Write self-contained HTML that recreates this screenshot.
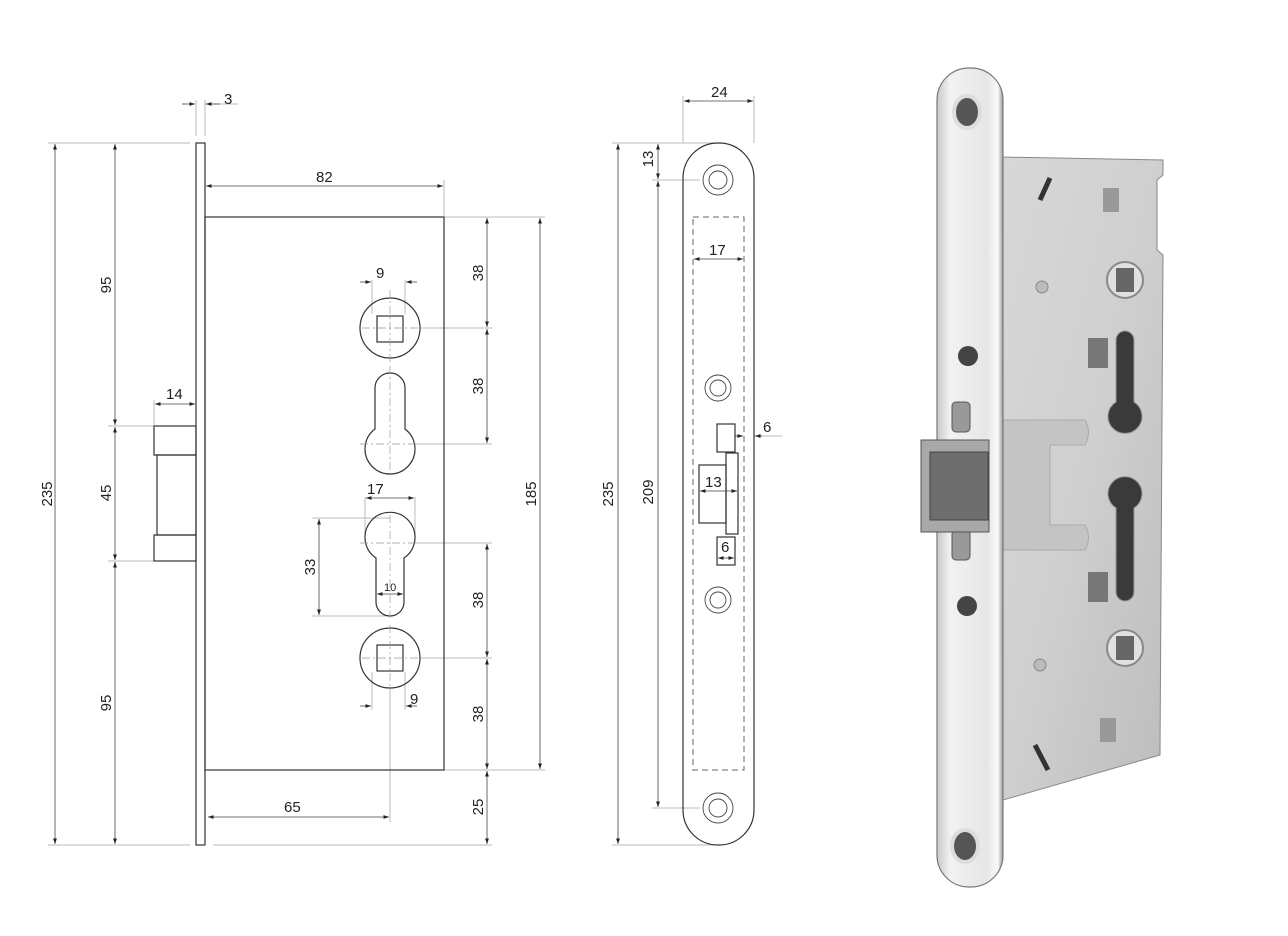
<!DOCTYPE html>
<html><head><meta charset="utf-8"><style>
html,body{margin:0;padding:0;background:#fff}
svg{display:block}
text{font-family:"Liberation Sans",Arial,sans-serif;font-size:15px;fill:#222}
</style></head><body>
<svg width="1288" height="936" viewBox="0 0 1288 936" xmlns="http://www.w3.org/2000/svg">
<defs>
<marker id="a" viewBox="0 0 10 10" refX="10" refY="5" markerWidth="7" markerHeight="7" orient="auto-start-reverse"><path d="M0,1.5 L10,5 L0,8.5 z" fill="#222"/></marker>
<linearGradient id="fp" x1="0" x2="1"><stop offset="0" stop-color="#c9c9c9"/><stop offset="0.2" stop-color="#f2f2f2"/><stop offset="0.75" stop-color="#e6e6e6"/><stop offset="0.92" stop-color="#fafafa"/><stop offset="1" stop-color="#9a9a9a"/></linearGradient>
<linearGradient id="bd" x1="0" x2="1" y1="0" y2="1"><stop offset="0" stop-color="#d8d8d8"/><stop offset="0.5" stop-color="#cfcfcf"/><stop offset="1" stop-color="#bdbdbd"/></linearGradient>
</defs>
<g stroke="#bbb" stroke-width="1" fill="none">
<line x1="48" y1="143" x2="190" y2="143"/><line x1="48" y1="845" x2="190" y2="845"/>
<line x1="213" y1="845" x2="492" y2="845"/>
<line x1="108" y1="426" x2="154" y2="426"/><line x1="108" y1="561" x2="154" y2="561"/>
<line x1="196" y1="100" x2="196" y2="136"/><line x1="205" y1="100" x2="205" y2="136"/>
<line x1="204" y1="104" x2="238" y2="104"/>
<line x1="444" y1="180" x2="444" y2="216"/>
<line x1="444" y1="217" x2="545" y2="217"/><line x1="444" y1="770" x2="545" y2="770"/>
<line x1="154" y1="400" x2="154" y2="425"/>
<line x1="372" y1="280" x2="372" y2="314"/><line x1="405" y1="280" x2="405" y2="314"/>
<line x1="365" y1="497" x2="365" y2="540"/><line x1="415" y1="497" x2="415" y2="540"/>
<line x1="312" y1="518" x2="390" y2="518"/><line x1="312" y1="616" x2="390" y2="616"/>
<line x1="372" y1="672" x2="372" y2="710"/><line x1="405" y1="672" x2="405" y2="710"/>
<line x1="390" y1="690" x2="390" y2="822"/>
<line x1="420" y1="328" x2="492" y2="328"/><line x1="420" y1="658" x2="492" y2="658"/>
<line x1="415" y1="444" x2="492" y2="444"/><line x1="415" y1="543" x2="492" y2="543"/>
<line x1="612" y1="143" x2="718" y2="143"/><line x1="612" y1="845" x2="718" y2="845"/>
<line x1="652" y1="180" x2="700" y2="180"/><line x1="652" y1="808" x2="700" y2="808"/>
<line x1="683" y1="96" x2="683" y2="143"/><line x1="754" y1="96" x2="754" y2="143"/>
<line x1="754" y1="436" x2="782" y2="436"/>
</g>
<g stroke="#444" stroke-width="0.8" fill="none" marker-start="url(#a)" marker-end="url(#a)">
<line x1="55" y1="144" x2="55" y2="844"/>
<line x1="115" y1="144" x2="115" y2="425"/>
<line x1="115" y1="427" x2="115" y2="560"/>
<line x1="115" y1="562" x2="115" y2="844"/>
<line x1="206" y1="186" x2="443" y2="186"/>
<line x1="155" y1="404" x2="195" y2="404"/>
<line x1="540" y1="218" x2="540" y2="769"/>
<line x1="487" y1="218" x2="487" y2="327"/>
<line x1="487" y1="329" x2="487" y2="443"/>
<line x1="487" y1="544" x2="487" y2="657"/>
<line x1="487" y1="659" x2="487" y2="769"/>
<line x1="487" y1="771" x2="487" y2="844"/>
<line x1="366" y1="498" x2="414" y2="498"/>
<line x1="319" y1="519" x2="319" y2="615"/>
<line x1="377" y1="594" x2="403" y2="594"/>
<line x1="208" y1="817" x2="389" y2="817"/>
<line x1="684" y1="101" x2="753" y2="101"/>
<line x1="618" y1="144" x2="618" y2="844"/>
<line x1="658" y1="144" x2="658" y2="179"/>
<line x1="658" y1="181" x2="658" y2="807"/>
<line x1="694" y1="259" x2="743" y2="259"/>
<line x1="700" y1="491" x2="737" y2="491"/>
<line x1="718" y1="558" x2="734" y2="558"/>
</g>
<g stroke="#444" stroke-width="0.8" fill="none" marker-end="url(#a)">
<line x1="182" y1="104" x2="195" y2="104"/><line x1="220" y1="104" x2="206" y2="104"/>
<line x1="360" y1="282" x2="371" y2="282"/><line x1="417" y1="282" x2="406" y2="282"/>
<line x1="360" y1="706" x2="371" y2="706"/><line x1="417" y1="706" x2="406" y2="706"/>
<line x1="735" y1="436" x2="743" y2="436"/><line x1="762" y1="436" x2="755" y2="436"/>
</g>
<g stroke="#333" stroke-width="1.2" fill="none">
<rect x="196" y="143" width="9" height="702"/>
<rect x="205" y="217" width="239" height="553"/>
<rect x="154" y="426" width="42" height="29"/>
<rect x="157" y="455" width="39" height="80"/>
<rect x="154" y="535" width="42" height="26"/>
<circle cx="390" cy="328" r="30"/><rect x="377" y="316" width="26" height="26"/>
<circle cx="390" cy="658" r="30"/><rect x="377" y="645" width="26" height="26"/>
<path d="M375,429 L375,388 A15,15 0 0 1 405,388 L405,429 A25,25 0 1 1 375,429 Z"/>
<path d="M376,558 A25,25 0 1 1 404,558 L404,602 A14,14 0 0 1 376,602 Z"/>
</g>
<g stroke="#999" stroke-width="0.7" stroke-dasharray="8,3,2,3" fill="none">
<line x1="390" y1="290" x2="390" y2="365"/><line x1="362" y1="328" x2="420" y2="328"/>
<line x1="390" y1="366" x2="390" y2="472"/><line x1="360" y1="444" x2="420" y2="444"/>
<line x1="390" y1="515" x2="390" y2="618"/><line x1="360" y1="543" x2="420" y2="543"/>
<line x1="390" y1="625" x2="390" y2="690"/><line x1="362" y1="658" x2="420" y2="658"/>
</g>
<g stroke="#333" stroke-width="1.2" fill="none">
<rect x="683" y="143" width="71" height="702" rx="35" ry="35"/>
<rect x="717" y="424" width="18" height="28"/>
<rect x="699" y="465" width="27" height="58"/>
<rect x="726" y="453" width="12" height="81"/>
<rect x="717" y="537" width="18" height="28"/>
</g>
<g stroke="#444" stroke-width="0.9" fill="none">
<circle cx="718" cy="180" r="15"/><circle cx="718" cy="180" r="9"/>
<circle cx="718" cy="388" r="13"/><circle cx="718" cy="388" r="8"/>
<circle cx="718" cy="600" r="13"/><circle cx="718" cy="600" r="8"/>
<circle cx="718" cy="808" r="15"/><circle cx="718" cy="808" r="9"/>
</g>
<rect x="693" y="217" width="51" height="553" stroke="#666" stroke-width="1" stroke-dasharray="6,4" fill="none"/>
<text x="224" y="104">3</text>
<text x="316" y="182">82</text>
<text x="166" y="399">14</text>
<text x="376" y="278">9</text>
<text x="367" y="494">17</text>
<text x="384" y="591" style="font-size:11px">10</text>
<text x="410" y="704">9</text>
<text x="284" y="812">65</text>
<text x="711" y="97">24</text>
<text x="709" y="255">17</text>
<text x="705" y="487">13</text>
<text x="721" y="552">6</text>
<text x="763" y="432">6</text>
<g>
<text transform="translate(52,494) rotate(-90)" text-anchor="middle">235</text>
<text transform="translate(111,285) rotate(-90)" text-anchor="middle">95</text>
<text transform="translate(111,493) rotate(-90)" text-anchor="middle">45</text>
<text transform="translate(111,703) rotate(-90)" text-anchor="middle">95</text>
<text transform="translate(483,273) rotate(-90)" text-anchor="middle">38</text>
<text transform="translate(483,386) rotate(-90)" text-anchor="middle">38</text>
<text transform="translate(483,600) rotate(-90)" text-anchor="middle">38</text>
<text transform="translate(483,714) rotate(-90)" text-anchor="middle">38</text>
<text transform="translate(483,807) rotate(-90)" text-anchor="middle">25</text>
<text transform="translate(536,494) rotate(-90)" text-anchor="middle">185</text>
<text transform="translate(315,567) rotate(-90)" text-anchor="middle">33</text>
<text transform="translate(613,494) rotate(-90)" text-anchor="middle">235</text>
<text transform="translate(653,159) rotate(-90)" text-anchor="middle">13</text>
<text transform="translate(653,492) rotate(-90)" text-anchor="middle">209</text>
</g>
<polygon points="1000,157 1163,160 1163,175 1157,180 1157,250 1163,255 1160,755 1003,800" fill="url(#bd)" stroke="#888" stroke-width="1"/>
<path d="M1003,420 L1085,420 Q1092,432 1085,445 L1050,445 L1050,525 L1085,525 Q1092,538 1085,550 L1003,550 Z" fill="#c4c4c4" stroke="#aaa"/>
<rect x="937" y="68" width="66" height="819" rx="32" fill="url(#fp)" stroke="#777" stroke-width="1.2"/>
<ellipse cx="967" cy="112" rx="13" ry="16" fill="#555" stroke="#ddd" stroke-width="4"/>
<ellipse cx="965" cy="846" rx="13" ry="16" fill="#555" stroke="#ddd" stroke-width="4"/>
<circle cx="968" cy="356" r="10" fill="#444"/><circle cx="967" cy="606" r="10" fill="#444"/>
<rect x="952" y="402" width="18" height="30" rx="4" fill="#999" stroke="#555"/>
<rect x="952" y="530" width="18" height="30" rx="4" fill="#999" stroke="#555"/>
<rect x="921" y="440" width="68" height="92" fill="#a8a8a8" stroke="#555"/>
<rect x="930" y="452" width="58" height="68" fill="#6e6e6e" stroke="#444"/>
<circle cx="1125" cy="280" r="18" fill="#e0e0e0" stroke="#888" stroke-width="2"/><rect x="1116" y="268" width="18" height="24" fill="#666"/>
<circle cx="1125" cy="648" r="18" fill="#e0e0e0" stroke="#888" stroke-width="2"/><rect x="1116" y="636" width="18" height="24" fill="#666"/>
<path d="M1116,340 A9,9 0 0 1 1134,340 L1134,402 A17,17 0 1 1 1116,402 Z" fill="#3a3a3a" stroke="#999"/>
<path d="M1116,508 A17,17 0 1 1 1134,508 L1134,592 A9,9 0 0 1 1116,592 Z" fill="#3a3a3a" stroke="#999"/>
<rect x="1088" y="338" width="20" height="30" fill="#777"/><rect x="1088" y="572" width="20" height="30" fill="#777"/>
<rect x="1103" y="188" width="16" height="24" fill="#999"/><rect x="1100" y="718" width="16" height="24" fill="#999"/>
<line x1="1040" y1="200" x2="1050" y2="178" stroke="#333" stroke-width="5"/>
<line x1="1035" y1="745" x2="1048" y2="770" stroke="#333" stroke-width="5"/>
<circle cx="1042" cy="287" r="6" fill="#bbb" stroke="#888"/><circle cx="1040" cy="665" r="6" fill="#bbb" stroke="#888"/>
</svg>
</body></html>
